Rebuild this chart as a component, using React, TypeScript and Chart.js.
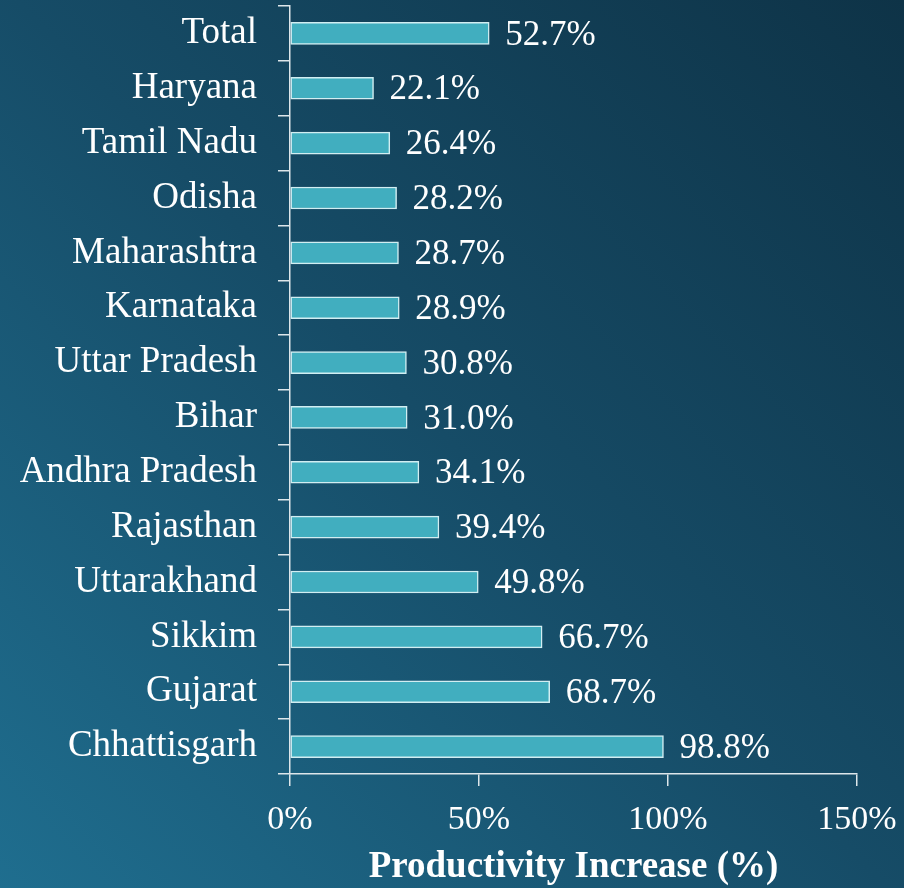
import React, { useEffect, useRef } from "react";
import { Chart, registerables } from "chart.js";

Chart.register(...registerables);

const categories = [
  "Total",
  "Haryana",
  "Tamil Nadu",
  "Odisha",
  "Maharashtra",
  "Karnataka",
  "Uttar Pradesh",
  "Bihar",
  "Andhra Pradesh",
  "Rajasthan",
  "Uttarakhand",
  "Sikkim",
  "Gujarat",
  "Chhattisgarh",
];
const increaseValues = [52.7, 22.1, 26.4, 28.2, 28.7, 28.9, 30.8, 31.0, 34.1, 39.4, 49.8, 66.7, 68.7, 98.8];
const xTickValues = [0, 50, 100, 150];
const axisTitle = "Productivity Increase (%)";

const FONT = "'Liberation Serif', 'Times New Roman', serif";
const AXIS_COLOR = "#dde6ea";

const backgroundPlugin = {
  id: "bgGradient",
  beforeDraw(chart: any) {
    const { ctx, width, height } = chart;
    const g = ctx.createLinearGradient(0, height, width, 0);
    g.addColorStop(0, "#1f6e8f");
    g.addColorStop(0.5, "#164c67");
    g.addColorStop(1, "#0e3347");
    ctx.save();
    ctx.fillStyle = g;
    ctx.fillRect(0, 0, width, height);
    ctx.restore();
  },
};

const valueLabelPlugin = {
  id: "valueLabels",
  afterDatasetsDraw(chart: any) {
    const { ctx } = chart;
    const meta = chart.getDatasetMeta(0);
    const data = chart.data.datasets[0].data as number[];
    ctx.save();
    ctx.fillStyle = "#ffffff";
    ctx.font = `35px ${FONT}`;
    ctx.textAlign = "left";
    ctx.textBaseline = "middle";
    meta.data.forEach((bar: any, i: number) => {
      ctx.fillText(data[i].toFixed(1) + "%", bar.x + 16, bar.y + 2);
    });
    ctx.restore();
  },
};

export default function App() {
  const canvasRef = useRef<HTMLCanvasElement | null>(null);

  useEffect(() => {
    if (!canvasRef.current) return;
    const chart = new Chart(canvasRef.current, {
      type: "bar",
      data: {
        labels: categories,
        datasets: [
          {
            data: increaseValues,
            backgroundColor: "#41aebf",
            borderColor: "#d2eef2",
            borderWidth: 1.5,
            borderSkipped: false,
            barThickness: 22,
          },
        ],
      },
      options: {
        indexAxis: "y",
        responsive: false,
        animation: false,
        layout: { padding: { top: 6, right: 47, left: 0, bottom: 0 } },
        plugins: {
          legend: { display: false },
          tooltip: { enabled: false },
        },
        scales: {
          x: {
            min: 0,
            max: 150,
            afterBuildTicks(scale: any) {
              scale.ticks = xTickValues.map((v) => ({ value: v }));
            },
            afterFit(scale: any) {
              scale.height = 114;
              scale.paddingLeft = 0;
              scale.paddingRight = 0;
            },
            ticks: {
              color: "#ffffff",
              font: { family: FONT, size: 34 },
              padding: 14,
              maxRotation: 0,
              callback: (v: any) => v + "%",
            },
            grid: {
              display: true,
              drawOnChartArea: false,
              drawTicks: true,
              tickLength: 12,
              color: AXIS_COLOR,
              lineWidth: 1.5,
            },
            border: { display: true, color: AXIS_COLOR, width: 1.5 },
            title: {
              display: true,
              text: axisTitle,
              color: "#ffffff",
              font: { family: FONT, size: 37, weight: "bold" },
              padding: { top: 0, bottom: -2 },
            },
          },
          y: {
            afterFit(scale: any) {
              scale.width = 290;
              scale.paddingTop = 0;
              scale.paddingBottom = 0;
            },
            ticks: {
              color: "#ffffff",
              font: { family: FONT, size: 37 },
              padding: 21,
            },
            grid: {
              display: true,
              offset: true,
              drawOnChartArea: false,
              drawTicks: true,
              tickLength: 12,
              color: AXIS_COLOR,
              lineWidth: 1.5,
            },
            border: { display: true, color: AXIS_COLOR, width: 1.5 },
          },
        },
      },
      plugins: [backgroundPlugin, valueLabelPlugin],
    });
    return () => chart.destroy();
  }, []);

  return (
    <div style={{ position: "fixed", left: 0, top: 0, width: 904, height: 888 }}>
      <canvas ref={canvasRef} width={904} height={888} style={{ display: "block" }} />
    </div>
  );
}
